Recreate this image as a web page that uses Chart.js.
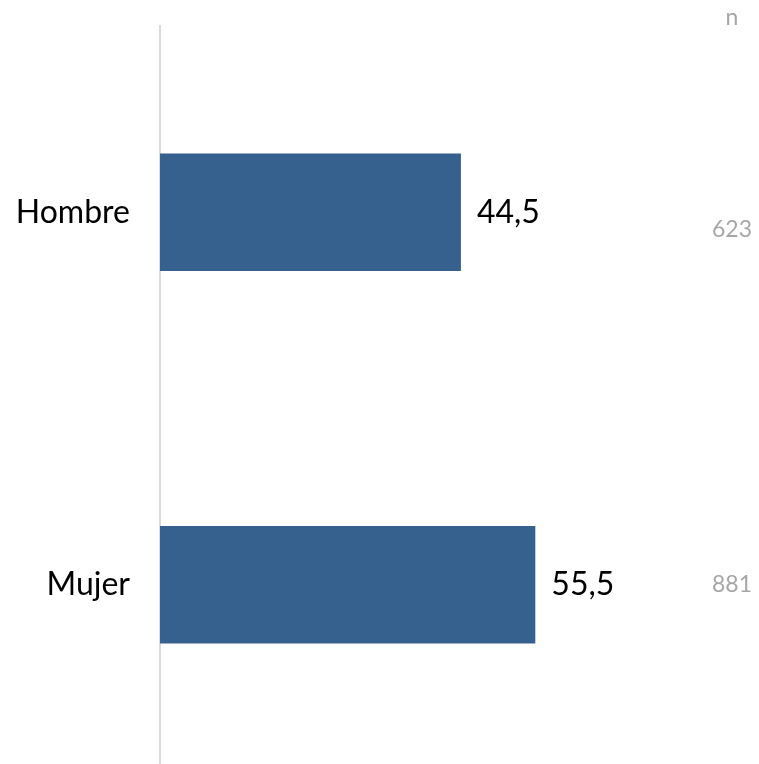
<!DOCTYPE html>
<html>
<head>
<meta charset="utf-8">
<script src="https://cdn.jsdelivr.net/npm/chart.js@4"></script>
<style>
	html, body { margin: 0; padding: 0; background: #fff; overflow: hidden; }
	#wrap { position: relative; width: 759px; height: 771px; }
</style>
</head>
<body>
<div id="wrap"><canvas id="myChart"></canvas></div>
<script>
const categories = ['Hombre', 'Mujer'];
const values = [44.5, 55.5];
const nValues = [623, 881];

const ctx = document.getElementById('myChart');

Chart.defaults.font.family = 'Lato';

// etiquetas de valor y columna n
const labelsPlugin = {
	id: 'labels',
	afterDatasetsDraw(chart) {
		const c = chart.ctx;
		const meta = chart.getDatasetMeta(0);
		c.save();
		c.textBaseline = 'middle';
		meta.data.forEach((bar, i) => {
			c.font = '32px Lato';
			c.fillStyle = '#000';
			c.textAlign = 'left';
			c.fillText(values[i].toFixed(1).replace('.', ','), bar.x + 16, bar.y);

			c.font = '23px Lato';
			c.fillStyle = '#a6a6a6';
			c.textAlign = 'center';
			c.fillText(nValues[i], 732, bar.y + (i == 0 ? 17 : 0));
		});
		c.font = '23px Lato';
		c.fillStyle = '#a6a6a6';
		c.textAlign = 'center';
		c.fillText('n', 732, 18);
		c.restore();
	}
};

new Chart(ctx, {
	type: 'bar',
	data: {
		labels: categories,
		datasets: [{
			data: values,
			backgroundColor: '#36618f',
			borderWidth: 0,
			barPercentage: 0.315,
			categoryPercentage: 1
		}]
	},
	options: {
		indexAxis: 'y',
		responsive: true,
		maintainAspectRatio: false,
		animation: false,
		layout: {
			padding: { top: 26, right: 58, bottom: 0, left: 0 }
		},
		scales: {
			x: {
				display: false,
				min: 0,
				max: 80
			},
			y: {
				grid: { display: false, drawTicks: false },
				border: { display: true, color: '#d9d9d9', width: 2 },
				ticks: {
					color: '#000',
					padding: 30,
					font: { size: 32 }
				},
				afterFit(scale) {
					scale.width = 160;
					scale.paddingTop = 0;
					scale.paddingBottom = 0;
				}
			}
		},
		plugins: {
			legend: { display: false },
			tooltip: { enabled: false }
		}
	},
	plugins: [labelsPlugin]
});
</script>
</body>
</html>
